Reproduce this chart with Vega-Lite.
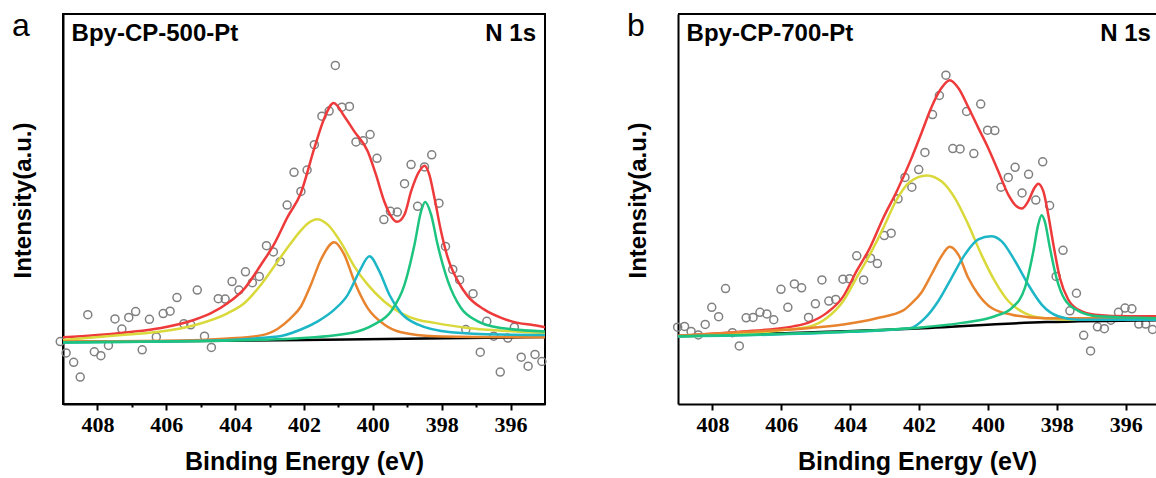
{
  "$schema": "https://vega.github.io/schema/vega-lite/v6.json",
  "padding": {"left": 10, "top": 9, "right": 0, "bottom": 0},
  "spacing": 75,
  "config": {
    "view": {"stroke": "black", "strokeWidth": 2},
    "axis": {"grid": false, "domainColor": "black", "domainWidth": 2, "tickColor": "black", "tickWidth": 2, "labelFont": "Liberation Serif", "labelFontWeight": "bold", "labelFontSize": 22, "labelColor": "black", "titleFont": "Liberation Sans", "titleFontWeight": "bold", "titleFontSize": 24, "titleColor": "black"}
  },
  "datasets": {
    "pts": [
      {"panel":"a","x":409.08,"y":16.0},{"panel":"a","x":408.91,"y":13.1},{"panel":"a","x":408.69,"y":10.7},{"panel":"a","x":408.50,"y":6.9},{"panel":"a","x":408.28,"y":22.9},{"panel":"a","x":408.09,"y":13.4},{"panel":"a","x":407.90,"y":12.4},{"panel":"a","x":407.68,"y":15.0},{"panel":"a","x":407.49,"y":21.8},{"panel":"a","x":407.29,"y":19.2},{"panel":"a","x":407.09,"y":22.2},{"panel":"a","x":406.89,"y":23.7},{"panel":"a","x":406.70,"y":13.9},{"panel":"a","x":406.49,"y":21.7},{"panel":"a","x":406.29,"y":17.2},{"panel":"a","x":406.09,"y":23.2},{"panel":"a","x":405.89,"y":23.8},{"panel":"a","x":405.69,"y":27.3},{"panel":"a","x":405.49,"y":20.6},{"panel":"a","x":405.29,"y":20.3},{"panel":"a","x":405.10,"y":29.2},{"panel":"a","x":404.89,"y":17.4},{"panel":"a","x":404.69,"y":14.5},{"panel":"a","x":404.49,"y":27.0},{"panel":"a","x":404.29,"y":26.9},{"panel":"a","x":404.09,"y":31.4},{"panel":"a","x":403.89,"y":29.2},{"panel":"a","x":403.70,"y":33.9},{"panel":"a","x":403.50,"y":31.1},{"panel":"a","x":403.30,"y":32.7},{"panel":"a","x":403.09,"y":40.6},{"panel":"a","x":402.89,"y":39.0},{"panel":"a","x":402.69,"y":36.5},{"panel":"a","x":402.49,"y":51.0},{"panel":"a","x":402.29,"y":59.4},{"panel":"a","x":402.09,"y":54.5},{"panel":"a","x":401.91,"y":60.0},{"panel":"a","x":401.70,"y":66.5},{"panel":"a","x":401.48,"y":73.8},{"panel":"a","x":401.27,"y":75.1},{"panel":"a","x":401.09,"y":86.8},{"panel":"a","x":400.90,"y":76.1},{"panel":"a","x":400.68,"y":76.3},{"panel":"a","x":400.49,"y":67.2},{"panel":"a","x":400.28,"y":67.5},{"panel":"a","x":400.08,"y":69.1},{"panel":"a","x":399.88,"y":63.0},{"panel":"a","x":399.68,"y":47.3},{"panel":"a","x":399.49,"y":49.4},{"panel":"a","x":399.29,"y":49.2},{"panel":"a","x":399.08,"y":56.5},{"panel":"a","x":398.89,"y":61.4},{"panel":"a","x":398.70,"y":50.7},{"panel":"a","x":398.50,"y":60.8},{"panel":"a","x":398.29,"y":63.9},{"panel":"a","x":398.08,"y":51.5},{"panel":"a","x":397.89,"y":40.4},{"panel":"a","x":397.68,"y":34.5},{"panel":"a","x":397.48,"y":31.8},{"panel":"a","x":397.30,"y":19.1},{"panel":"a","x":397.09,"y":28.3},{"panel":"a","x":396.88,"y":13.3},{"panel":"a","x":396.69,"y":21.2},{"panel":"a","x":396.49,"y":17.4},{"panel":"a","x":396.30,"y":8.2},{"panel":"a","x":396.08,"y":16.9},{"panel":"a","x":395.89,"y":19.7},{"panel":"a","x":395.69,"y":12.0},{"panel":"a","x":395.49,"y":9.7},{"panel":"a","x":395.29,"y":12.7},{"panel":"a","x":395.09,"y":10.9},
      {"panel":"b","x":409.01,"y":19.7},{"panel":"b","x":408.81,"y":19.9},{"panel":"b","x":408.62,"y":18.6},{"panel":"b","x":408.41,"y":17.7},{"panel":"b","x":408.21,"y":20.4},{"panel":"b","x":408.02,"y":24.8},{"panel":"b","x":407.82,"y":22.4},{"panel":"b","x":407.62,"y":29.6},{"panel":"b","x":407.42,"y":18.3},{"panel":"b","x":407.22,"y":14.9},{"panel":"b","x":407.02,"y":22.1},{"panel":"b","x":406.82,"y":22.2},{"panel":"b","x":406.62,"y":23.5},{"panel":"b","x":406.42,"y":23.1},{"panel":"b","x":406.22,"y":21.6},{"panel":"b","x":406.01,"y":29.4},{"panel":"b","x":405.81,"y":24.8},{"panel":"b","x":405.62,"y":30.8},{"panel":"b","x":405.41,"y":29.8},{"panel":"b","x":405.21,"y":22.2},{"panel":"b","x":405.01,"y":25.7},{"panel":"b","x":404.82,"y":31.8},{"panel":"b","x":404.62,"y":26.4},{"panel":"b","x":404.42,"y":26.8},{"panel":"b","x":404.21,"y":32.0},{"panel":"b","x":404.02,"y":32.1},{"panel":"b","x":403.81,"y":38.0},{"panel":"b","x":403.61,"y":31.8},{"panel":"b","x":403.41,"y":37.4},{"panel":"b","x":403.21,"y":36.0},{"panel":"b","x":403.01,"y":43.2},{"panel":"b","x":402.81,"y":43.8},{"panel":"b","x":402.61,"y":52.6},{"panel":"b","x":402.41,"y":58.1},{"panel":"b","x":402.21,"y":55.6},{"panel":"b","x":402.01,"y":60.1},{"panel":"b","x":401.83,"y":64.5},{"panel":"b","x":401.61,"y":74.2},{"panel":"b","x":401.41,"y":79.1},{"panel":"b","x":401.22,"y":84.3},{"panel":"b","x":401.02,"y":65.5},{"panel":"b","x":400.81,"y":65.4},{"panel":"b","x":400.62,"y":75.0},{"panel":"b","x":400.41,"y":64.2},{"panel":"b","x":400.21,"y":76.9},{"panel":"b","x":400.01,"y":70.2},{"panel":"b","x":399.80,"y":70.1},{"panel":"b","x":399.62,"y":55.6},{"panel":"b","x":399.41,"y":58.1},{"panel":"b","x":399.21,"y":60.7},{"panel":"b","x":399.01,"y":54.1},{"panel":"b","x":398.82,"y":58.9},{"panel":"b","x":398.61,"y":52.3},{"panel":"b","x":398.41,"y":62.1},{"panel":"b","x":398.21,"y":50.9},{"panel":"b","x":398.02,"y":32.7},{"panel":"b","x":397.82,"y":39.4},{"panel":"b","x":397.62,"y":23.9},{"panel":"b","x":397.43,"y":28.4},{"panel":"b","x":397.22,"y":17.6},{"panel":"b","x":397.02,"y":13.6},{"panel":"b","x":396.82,"y":19.8},{"panel":"b","x":396.62,"y":19.3},{"panel":"b","x":396.43,"y":21.5},{"panel":"b","x":396.21,"y":23.5},{"panel":"b","x":396.02,"y":24.6},{"panel":"b","x":395.82,"y":24.4},{"panel":"b","x":395.62,"y":20.5},{"panel":"b","x":395.42,"y":20.5},{"panel":"b","x":395.22,"y":19.1}
    ],
    "fit": [
      {"panel":"a","series":"base","x":409.0,"y":15.9},{"panel":"a","series":"base","x":402.0,"y":16.4},{"panel":"a","series":"base","x":395.0,"y":17.2},
      {"panel":"a","series":"red","x":409.0,"y":17.1},{"panel":"a","series":"red","x":408.09,"y":17.6},{"panel":"a","series":"red","x":407.12,"y":18.4},{"panel":"a","series":"red","x":406.15,"y":19.5},{"panel":"a","series":"red","x":405.18,"y":21.6},{"panel":"a","series":"red","x":404.70,"y":23.3},{"panel":"a","series":"red","x":404.21,"y":25.9},{"panel":"a","series":"red","x":403.73,"y":29.6},{"panel":"a","series":"red","x":403.25,"y":35.7},{"panel":"a","series":"red","x":402.86,"y":41.1},{"panel":"a","series":"red","x":402.48,"y":47.9},{"panel":"a","series":"red","x":402.09,"y":54.1},{"panel":"a","series":"red","x":401.70,"y":65.6},{"panel":"a","series":"red","x":401.41,"y":73.3},{"panel":"a","series":"red","x":401.14,"y":77.2},{"panel":"a","series":"red","x":400.83,"y":73.8},{"panel":"a","series":"red","x":400.54,"y":69.9},{"panel":"a","series":"red","x":400.15,"y":64.8},{"panel":"a","series":"red","x":399.91,"y":58.8},{"panel":"a","series":"red","x":399.67,"y":52.0},{"panel":"a","series":"red","x":399.47,"y":48.1},{"panel":"a","series":"red","x":399.30,"y":46.7},{"panel":"a","series":"red","x":399.08,"y":48.6},{"panel":"a","series":"red","x":398.89,"y":54.5},{"panel":"a","series":"red","x":398.65,"y":59.7},{"panel":"a","series":"red","x":398.50,"y":61.1},{"panel":"a","series":"red","x":398.36,"y":58.8},{"panel":"a","series":"red","x":398.21,"y":52.8},{"panel":"a","series":"red","x":398.02,"y":44.3},{"panel":"a","series":"red","x":397.82,"y":37.4},{"panel":"a","series":"red","x":397.53,"y":31.5},{"panel":"a","series":"red","x":397.24,"y":27.6},{"panel":"a","series":"red","x":396.76,"y":24.2},{"panel":"a","series":"red","x":396.27,"y":22.1},{"panel":"a","series":"red","x":395.79,"y":20.8},{"panel":"a","series":"red","x":395.31,"y":20.2},{"panel":"a","series":"red","x":395.0,"y":19.7},
      {"panel":"a","series":"yellow","x":409.0,"y":16.4},{"panel":"a","series":"yellow","x":407.12,"y":17.8},{"panel":"a","series":"yellow","x":406.15,"y":18.6},{"panel":"a","series":"yellow","x":405.18,"y":20.2},{"panel":"a","series":"yellow","x":404.21,"y":23.3},{"panel":"a","series":"yellow","x":403.73,"y":25.9},{"panel":"a","series":"yellow","x":403.25,"y":30.6},{"panel":"a","series":"yellow","x":402.76,"y":36.6},{"panel":"a","series":"yellow","x":402.40,"y":41.0},{"panel":"a","series":"yellow","x":402.09,"y":44.5},{"panel":"a","series":"yellow","x":401.89,"y":46.3},{"panel":"a","series":"yellow","x":401.62,"y":47.4},{"panel":"a","series":"yellow","x":401.31,"y":46.0},{"panel":"a","series":"yellow","x":400.92,"y":41.3},{"panel":"a","series":"yellow","x":400.54,"y":35.3},{"panel":"a","series":"yellow","x":400.15,"y":30.6},{"panel":"a","series":"yellow","x":399.67,"y":26.3},{"panel":"a","series":"yellow","x":399.18,"y":23.3},{"panel":"a","series":"yellow","x":398.70,"y":21.6},{"panel":"a","series":"yellow","x":398.21,"y":20.8},{"panel":"a","series":"yellow","x":397.24,"y":19.5},{"panel":"a","series":"yellow","x":396.27,"y":18.8},{"panel":"a","series":"yellow","x":395.0,"y":18.2},
      {"panel":"a","series":"orange","x":409.0,"y":16.0},{"panel":"a","series":"orange","x":406.0,"y":16.2},{"panel":"a","series":"orange","x":404.21,"y":16.8},{"panel":"a","series":"orange","x":403.25,"y":17.6},{"panel":"a","series":"orange","x":402.76,"y":19.3},{"panel":"a","series":"orange","x":402.40,"y":21.9},{"panel":"a","series":"orange","x":402.09,"y":25.0},{"panel":"a","series":"orange","x":401.80,"y":30.6},{"panel":"a","series":"orange","x":401.51,"y":37.0},{"panel":"a","series":"orange","x":401.12,"y":41.5},{"panel":"a","series":"orange","x":400.83,"y":38.3},{"panel":"a","series":"orange","x":400.54,"y":31.5},{"panel":"a","series":"orange","x":400.15,"y":24.6},{"panel":"a","series":"orange","x":399.67,"y":20.4},{"panel":"a","series":"orange","x":399.18,"y":18.4},{"panel":"a","series":"orange","x":398.21,"y":17.4},{"panel":"a","series":"orange","x":395.0,"y":17.1},
      {"panel":"a","series":"cyan","x":409.0,"y":15.8},{"panel":"a","series":"cyan","x":405.0,"y":16.2},{"panel":"a","series":"cyan","x":402.76,"y":17.3},{"panel":"a","series":"cyan","x":402.09,"y":19.1},{"panel":"a","series":"cyan","x":401.60,"y":21.2},{"panel":"a","series":"cyan","x":401.12,"y":24.2},{"panel":"a","series":"cyan","x":400.73,"y":28.0},{"panel":"a","series":"cyan","x":400.39,"y":34.0},{"panel":"a","series":"cyan","x":400.10,"y":37.9},{"panel":"a","series":"cyan","x":399.81,"y":34.0},{"panel":"a","series":"cyan","x":399.52,"y":28.0},{"panel":"a","series":"cyan","x":399.18,"y":23.3},{"panel":"a","series":"cyan","x":398.70,"y":20.4},{"panel":"a","series":"cyan","x":397.73,"y":18.4},{"panel":"a","series":"cyan","x":396.27,"y":17.8},{"panel":"a","series":"cyan","x":395.0,"y":17.7},
      {"panel":"a","series":"green","x":409.0,"y":15.8},{"panel":"a","series":"green","x":405.18,"y":16.1},{"panel":"a","series":"green","x":402.28,"y":16.8},{"panel":"a","series":"green","x":400.64,"y":18.2},{"panel":"a","series":"green","x":399.96,"y":20.4},{"panel":"a","series":"green","x":399.47,"y":23.8},{"panel":"a","series":"green","x":399.08,"y":30.6},{"panel":"a","series":"green","x":398.79,"y":40.9},{"panel":"a","series":"green","x":398.60,"y":49.4},{"panel":"a","series":"green","x":398.48,"y":51.8},{"panel":"a","series":"green","x":398.31,"y":48.6},{"panel":"a","series":"green","x":398.12,"y":40.9},{"panel":"a","series":"green","x":397.82,"y":31.5},{"panel":"a","series":"green","x":397.44,"y":24.6},{"panel":"a","series":"green","x":396.95,"y":21.2},{"panel":"a","series":"green","x":396.27,"y":19.5},{"panel":"a","series":"green","x":395.0,"y":18.6},
      {"panel":"b","series":"base","x":409.0,"y":17.4},{"panel":"b","series":"base","x":402.2,"y":19.3},{"panel":"b","series":"base","x":398.3,"y":21.0},{"panel":"b","series":"base","x":395.1,"y":21.5},
      {"panel":"b","series":"red","x":409.0,"y":17.5},{"panel":"b","series":"red","x":407.11,"y":18.6},{"panel":"b","series":"red","x":406.14,"y":19.3},{"panel":"b","series":"red","x":405.66,"y":19.9},{"panel":"b","series":"red","x":405.17,"y":21.0},{"panel":"b","series":"red","x":404.69,"y":23.3},{"panel":"b","series":"red","x":404.20,"y":27.6},{"panel":"b","series":"red","x":403.82,"y":34.0},{"panel":"b","series":"red","x":403.43,"y":40.0},{"panel":"b","series":"red","x":403.04,"y":47.7},{"panel":"b","series":"red","x":402.65,"y":54.5},{"panel":"b","series":"red","x":402.24,"y":62.6},{"panel":"b","series":"red","x":401.93,"y":69.5},{"panel":"b","series":"red","x":401.64,"y":76.1},{"panel":"b","series":"red","x":401.35,"y":81.0},{"panel":"b","series":"red","x":401.11,"y":83.0},{"panel":"b","series":"red","x":400.86,"y":81.0},{"panel":"b","series":"red","x":400.57,"y":76.1},{"panel":"b","series":"red","x":400.28,"y":70.8},{"panel":"b","series":"red","x":399.99,"y":65.6},{"panel":"b","series":"red","x":399.70,"y":59.7},{"panel":"b","series":"red","x":399.41,"y":53.7},{"panel":"b","series":"red","x":399.17,"y":50.7},{"panel":"b","series":"red","x":399.02,"y":50.1},{"panel":"b","series":"red","x":398.83,"y":52.0},{"panel":"b","series":"red","x":398.65,"y":55.4},{"panel":"b","series":"red","x":398.54,"y":56.5},{"panel":"b","series":"red","x":398.39,"y":54.5},{"panel":"b","series":"red","x":398.25,"y":48.6},{"panel":"b","series":"red","x":398.10,"y":40.9},{"panel":"b","series":"red","x":397.91,"y":32.3},{"panel":"b","series":"red","x":397.67,"y":26.8},{"panel":"b","series":"red","x":397.38,"y":24.2},{"panel":"b","series":"red","x":396.89,"y":22.9},{"panel":"b","series":"red","x":395.93,"y":22.5},{"panel":"b","series":"red","x":395.1,"y":22.5},
      {"panel":"b","series":"yellow","x":409.0,"y":17.3},{"panel":"b","series":"yellow","x":406.14,"y":18.8},{"panel":"b","series":"yellow","x":405.17,"y":19.9},{"panel":"b","series":"yellow","x":404.69,"y":22.0},{"panel":"b","series":"yellow","x":404.20,"y":26.4},{"panel":"b","series":"yellow","x":403.82,"y":32.3},{"panel":"b","series":"yellow","x":403.43,"y":38.3},{"panel":"b","series":"yellow","x":403.04,"y":45.1},{"panel":"b","series":"yellow","x":402.65,"y":52.4},{"panel":"b","series":"yellow","x":402.27,"y":56.9},{"panel":"b","series":"yellow","x":401.78,"y":58.6},{"panel":"b","series":"yellow","x":401.35,"y":57.1},{"panel":"b","series":"yellow","x":400.96,"y":52.8},{"panel":"b","series":"yellow","x":400.57,"y":46.0},{"panel":"b","series":"yellow","x":400.19,"y":38.3},{"panel":"b","series":"yellow","x":399.80,"y":31.5},{"panel":"b","series":"yellow","x":399.41,"y":26.4},{"panel":"b","series":"yellow","x":398.93,"y":23.3},{"panel":"b","series":"yellow","x":398.35,"y":22.0},{"panel":"b","series":"yellow","x":397.38,"y":21.6},{"panel":"b","series":"yellow","x":395.1,"y":21.6},
      {"panel":"b","series":"orange","x":409.0,"y":17.5},{"panel":"b","series":"orange","x":407.0,"y":18.5},{"panel":"b","series":"orange","x":405.17,"y":19.5},{"panel":"b","series":"orange","x":404.20,"y":20.4},{"panel":"b","series":"orange","x":403.23,"y":22.0},{"panel":"b","series":"orange","x":402.46,"y":24.0},{"panel":"b","series":"orange","x":402.22,"y":25.8},{"panel":"b","series":"orange","x":401.93,"y":28.6},{"panel":"b","series":"orange","x":401.64,"y":33.2},{"panel":"b","series":"orange","x":401.35,"y":37.9},{"panel":"b","series":"orange","x":401.11,"y":40.3},{"panel":"b","series":"orange","x":400.86,"y":38.3},{"panel":"b","series":"orange","x":400.57,"y":32.3},{"panel":"b","series":"orange","x":400.28,"y":28.1},{"panel":"b","series":"orange","x":399.89,"y":24.6},{"panel":"b","series":"orange","x":399.31,"y":22.9},{"panel":"b","series":"orange","x":398.35,"y":22.0},{"panel":"b","series":"orange","x":395.1,"y":22.0},
      {"panel":"b","series":"cyan","x":409.0,"y":17.3},{"panel":"b","series":"cyan","x":404.0,"y":18.5},{"panel":"b","series":"cyan","x":402.27,"y":19.4},{"panel":"b","series":"cyan","x":401.83,"y":22.0},{"panel":"b","series":"cyan","x":401.44,"y":26.4},{"panel":"b","series":"cyan","x":401.06,"y":32.3},{"panel":"b","series":"cyan","x":400.67,"y":38.3},{"panel":"b","series":"cyan","x":400.28,"y":42.2},{"panel":"b","series":"cyan","x":399.91,"y":43.0},{"panel":"b","series":"cyan","x":399.60,"y":41.7},{"panel":"b","series":"cyan","x":399.21,"y":36.6},{"panel":"b","series":"cyan","x":398.83,"y":30.6},{"panel":"b","series":"cyan","x":398.44,"y":25.5},{"panel":"b","series":"cyan","x":397.96,"y":22.5},{"panel":"b","series":"cyan","x":397.38,"y":21.6},{"panel":"b","series":"cyan","x":395.1,"y":21.6},
      {"panel":"b","series":"green","x":409.0,"y":17.4},{"panel":"b","series":"green","x":405.17,"y":18.2},{"panel":"b","series":"green","x":402.27,"y":19.4},{"panel":"b","series":"green","x":400.76,"y":20.8},{"panel":"b","series":"green","x":399.80,"y":22.5},{"panel":"b","series":"green","x":399.31,"y":24.6},{"panel":"b","series":"green","x":398.93,"y":29.7},{"panel":"b","series":"green","x":398.68,"y":39.2},{"panel":"b","series":"green","x":398.54,"y":46.0},{"panel":"b","series":"green","x":398.44,"y":48.4},{"panel":"b","series":"green","x":398.35,"y":46.8},{"panel":"b","series":"green","x":398.20,"y":40.0},{"panel":"b","series":"green","x":398.01,"y":32.3},{"panel":"b","series":"green","x":397.77,"y":26.8},{"panel":"b","series":"green","x":397.38,"y":23.9},{"panel":"b","series":"green","x":396.80,"y":22.5},{"panel":"b","series":"green","x":395.1,"y":22.0}
    ]
  },
  "hconcat": [
    {
      "width": 482,
      "height": 390,
      "layer": [
        {
          "data": {"name": "pts"},
          "transform": [{"filter": "datum.panel === 'a'"}],
          "mark": {"type": "point", "shape": "circle", "filled": false, "size": 64, "strokeWidth": 1.5, "color": "#808080", "opacity": 1},
          "encoding": {
            "x": {"field": "x", "type": "quantitative", "title": "Binding Energy (eV)", "scale": {"domain": [395, 409], "reverse": true, "nice": false, "zero": false},
              "axis": {"values": [396,397,398,399,400,401,402,403,404,405,406,407,408], "labelExpr": "datum.value % 2 === 0 ? datum.label : ''", "tickSize": {"condition": {"test": "datum.value % 2 === 0", "value": 6}, "value": 3}, "labelPadding": 4, "titlePadding": 14, "titleFontSize": 25, "labelFlush": false, "labelOverlap": false}},
            "y": {"field": "y", "type": "quantitative", "title": "Intensity(a.u.)", "scale": {"domain": [0, 100], "nice": false, "zero": false},
              "axis": {"ticks": false, "labels": false, "titlePadding": 28, "titleY": 186}}
          }
        },
        {
          "data": {"name": "fit"},
          "transform": [{"filter": "datum.panel === 'a'"}],
          "mark": {"type": "line", "interpolate": "monotone", "strokeWidth": 2.5},
          "encoding": {
            "x": {"field": "x", "type": "quantitative", "title": "Binding Energy (eV)"},
            "y": {"field": "y", "type": "quantitative", "title": "Intensity(a.u.)"},
            "color": {"field": "series", "type": "nominal", "legend": null, "scale": {"domain": ["base","red","yellow","orange","cyan","green"], "range": ["#000000","#EE3A3A","#D9D93B","#E8832E","#1DB6C6","#1DC480"]}}
          }
        },
        {
          "data": {"values": [{"label": "Bpy-CP-500-Pt"}]},
          "mark": {"type": "text", "align": "left", "baseline": "alphabetic", "fontSize": 24, "fontWeight": "bold", "font": "Liberation Sans", "color": "black"},
          "encoding": {"x": {"datum": 408.75}, "y": {"datum": 93.1}, "text": {"field": "label"}}
        },
        {
          "data": {"values": [{"label": "N 1s"}]},
          "mark": {"type": "text", "align": "right", "baseline": "alphabetic", "fontSize": 24, "fontWeight": "bold", "font": "Liberation Sans", "color": "black"},
          "encoding": {"x": {"datum": 395.26}, "y": {"datum": 93.1}, "text": {"field": "label"}}
        },
        {
          "data": {"values": [{"label": "a"}]},
          "mark": {"type": "text", "align": "left", "baseline": "alphabetic", "fontSize": 32, "fontWeight": "normal", "font": "Liberation Sans", "color": "black"},
          "encoding": {"x": {"datum": 410.48}, "y": {"datum": 94.3}, "text": {"field": "label"}}
        }
      ]
    },
    {
      "width": 478,
      "height": 390,
      "view": {"stroke": null},
      "layer": [
        {
          "data": {"name": "pts"},
          "transform": [{"filter": "datum.panel === 'b'"}],
          "mark": {"type": "point", "shape": "circle", "filled": false, "size": 64, "strokeWidth": 1.5, "color": "#808080", "opacity": 1},
          "encoding": {
            "x": {"field": "x", "type": "quantitative", "title": "Binding Energy (eV)", "scale": {"domain": [395.12, 409], "reverse": true, "nice": false, "zero": false},
              "axis": {"values": [396,397,398,399,400,401,402,403,404,405,406,407,408], "labelExpr": "datum.value % 2 === 0 ? datum.label : ''", "tickSize": {"condition": {"test": "datum.value % 2 === 0", "value": 6}, "value": 3}, "labelPadding": 4, "titlePadding": 14, "titleFontSize": 25, "labelFlush": false, "labelOverlap": false}},
            "y": {"field": "y", "type": "quantitative", "title": "Intensity(a.u.)", "scale": {"domain": [0, 100], "nice": false, "zero": false},
              "axis": {"ticks": false, "labels": false, "titlePadding": 28, "titleY": 186}}
          }
        },
        {
          "data": {"values": [{"edge": "top"}]},
          "mark": {"type": "rule", "strokeWidth": 2, "color": "black"},
          "encoding": {"y": {"datum": 100}}
        },
        {
          "data": {"name": "fit"},
          "transform": [{"filter": "datum.panel === 'b'"}],
          "mark": {"type": "line", "interpolate": "monotone", "strokeWidth": 2.5},
          "encoding": {
            "x": {"field": "x", "type": "quantitative", "title": "Binding Energy (eV)"},
            "y": {"field": "y", "type": "quantitative", "title": "Intensity(a.u.)"},
            "color": {"field": "series", "type": "nominal", "legend": null, "scale": {"domain": ["base","red","yellow","orange","cyan","green"], "range": ["#000000","#EE3A3A","#D9D93B","#E8832E","#1DB6C6","#1DC480"]}}
          }
        },
        {
          "data": {"values": [{"label": "Bpy-CP-700-Pt"}]},
          "mark": {"type": "text", "align": "left", "baseline": "alphabetic", "fontSize": 24, "fontWeight": "bold", "font": "Liberation Sans", "color": "black"},
          "encoding": {"x": {"datum": 408.75}, "y": {"datum": 93.1}, "text": {"field": "label"}}
        },
        {
          "data": {"values": [{"label": "N 1s"}]},
          "mark": {"type": "text", "align": "right", "baseline": "alphabetic", "fontSize": 24, "fontWeight": "bold", "font": "Liberation Sans", "color": "black"},
          "encoding": {"x": {"datum": 395.27}, "y": {"datum": 93.1}, "text": {"field": "label"}}
        },
        {
          "data": {"values": [{"label": "b"}]},
          "mark": {"type": "text", "align": "left", "baseline": "alphabetic", "fontSize": 32, "fontWeight": "normal", "font": "Liberation Sans", "color": "black"},
          "encoding": {"x": {"datum": 410.48}, "y": {"datum": 94.3}, "text": {"field": "label"}}
        }
      ]
    }
  ]
}
